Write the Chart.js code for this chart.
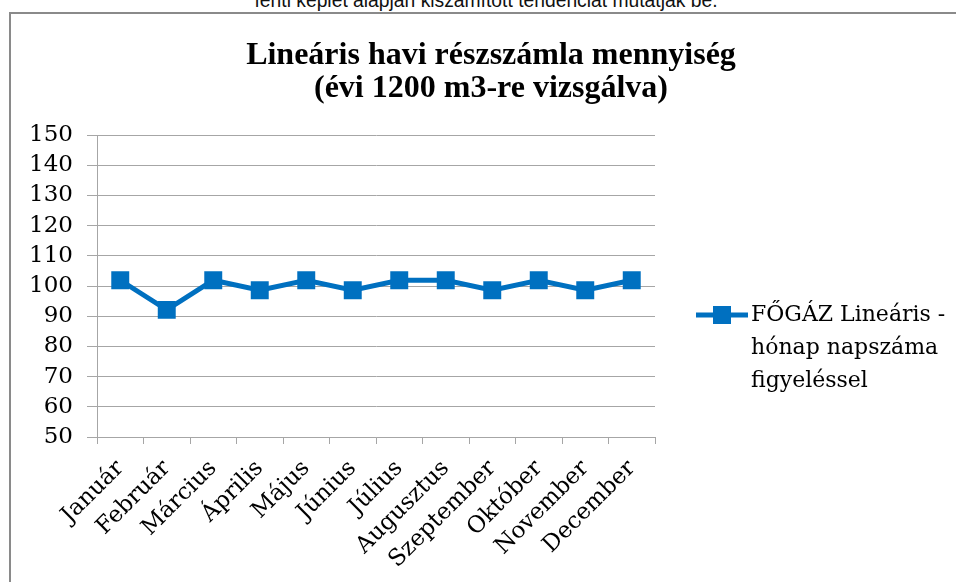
<!DOCTYPE html>
<html>
<head>
<meta charset="utf-8">
<script src="https://cdn.jsdelivr.net/npm/chart.js@4"></script>
<style>
    html, body { margin: 0; padding: 0; width: 956px; height: 582px; overflow: hidden; background: #fff; }
    #topText {
        position: absolute; left: 8px; width: 956px; top: -10px; text-align: center;
        font-family: "Liberation Sans", Arial, sans-serif; font-size: 19.3px; color: #111;
    }
    #frame {
        position: absolute; left: 9px; top: 12px; width: 1000px; height: 700px;
        border: 2px solid #8a8a8a; box-sizing: border-box; background: #fff;
    }
    #chartBox { position: absolute; left: 0; top: 0; width: 956px; height: 582px; }
</style>
</head>
<body>
<div id="topText">fenti képlet alapján kiszámított tendenciát mutatják be.</div>
<div id="frame"></div>
<div id="chartBox"><canvas id="gasChart" width="956" height="582"></canvas></div>
<script>
const months = ["Január", "Február", "Március", "Április", "Május", "Június", "Július",
    "Augusztus", "Szeptember", "Október", "November", "December"];
const linearValues = [101.9, 92.1, 101.9, 98.6, 101.9, 98.6, 101.9, 101.9, 98.6, 101.9, 98.6, 101.9];
const seriesName = ["FŐGÁZ Lineáris -", "hónap napszáma", "figyeléssel"];
const titleLines = ["Lineáris havi részszámla mennyiség", "(évi 1200 m3-re vizsgálva)"];
const yTicks = [50, 60, 70, 80, 90, 100, 110, 120, 130, 140, 150];

const blue = "#0070c0";
const gridGray = "#a6a6a6";
const serif = "'DejaVu Serif', serif";

// title + legend drawn by hand (multi-line legend text)
const textPlugin = {
    id: "textPlugin",
    afterDraw(chart) {
        const ctx = chart.ctx;
        ctx.save();
        ctx.fillStyle = "#000";
        ctx.textAlign = "center";
        ctx.textBaseline = "middle";
        ctx.font = "bold 32px 'Liberation Serif', serif";
        titleLines.forEach((t, i) => ctx.fillText(t, 491, 56 + i * 33));

        // legend
        const ly = 315;
        ctx.strokeStyle = blue;
        ctx.lineWidth = 5;
        ctx.beginPath();
        ctx.moveTo(696, ly);
        ctx.lineTo(748, ly);
        ctx.stroke();
        ctx.fillStyle = blue;
        ctx.fillRect(713, ly - 9, 18, 18);
        ctx.fillStyle = "#000";
        ctx.textAlign = "left";
        ctx.font = "22px " + serif;
        seriesName.forEach((t, i) => ctx.fillText(t, 751, ly + i * 33));
        ctx.restore();
    }
};

new Chart(document.getElementById("gasChart"), {
    type: "line",
    data: {
        labels: months,
        datasets: [{
            label: seriesName.join(" "),
            data: linearValues,
            borderColor: blue,
            backgroundColor: blue,
            borderWidth: 5,
            pointStyle: "rect",
            pointRadius: 12.7,
            pointHoverRadius: 12.7,
            pointBorderWidth: 0,
            tension: 0
        }]
    },
    options: {
        responsive: false,
        animation: false,
        devicePixelRatio: 1,
        layout: { padding: { left: 0, right: 301, top: 135, bottom: 0 } },
        plugins: {
            legend: { display: false },
            title: { display: false },
            tooltip: { enabled: false }
        },
        scales: {
            x: {
                offset: true,
                grid: { offset: true, drawOnChartArea: false, color: gridGray, tickLength: 7 },
                border: { color: gridGray },
                ticks: {
                    color: "#000", font: { family: serif, size: 23 },
                    minRotation: 45, maxRotation: 45, padding: 11, autoSkip: false
                },
                afterFit(scale) { scale.height = 145; }
            },
            y: {
                min: yTicks[0],
                max: yTicks[yTicks.length - 1],
                afterBuildTicks(scale) { scale.ticks = yTicks.map(v => ({ value: v })); },
                grid: { color: gridGray, tickLength: 10 },
                border: { color: gridGray },
                ticks: { color: "#000", font: { family: serif, size: 23 }, padding: 14, autoSkip: false },
                afterFit(scale) { scale.width = 97; }
            }
        }
    },
    plugins: [textPlugin]
});
</script>
</body>
</html>
